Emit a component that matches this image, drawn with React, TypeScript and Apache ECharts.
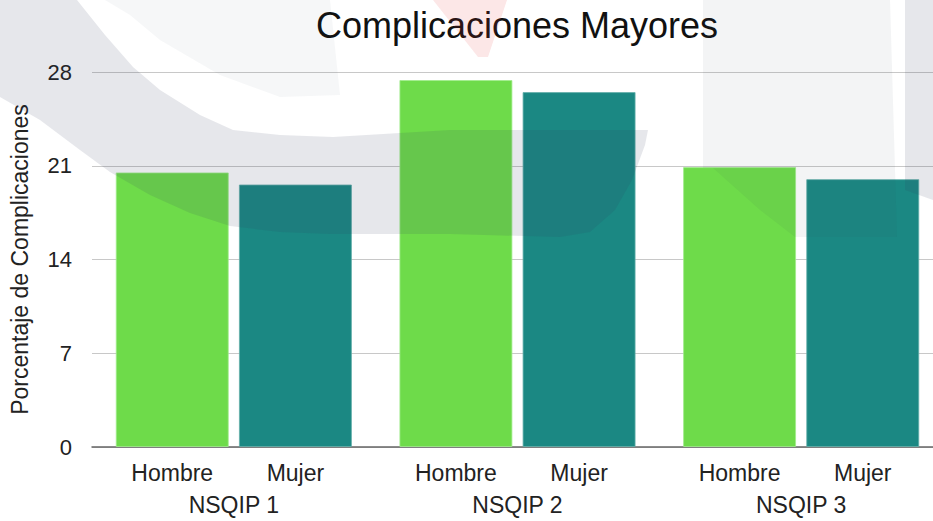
import React, { useEffect, useRef } from "react";
import * as echarts from "echarts";

const groups = ["NSQIP 1", "NSQIP 2", "NSQIP 3"];
const seriesNames = ["Hombre", "Mujer"];
const hombre = [20.5, 27.4, 20.9];
const mujer = [19.6, 26.5, 20.0];
const yTicks = [0, 7, 14, 21, 28];

const FONT = '"Liberation Sans", Arial, Helvetica, sans-serif';

export default function App() {
  const ref = useRef<HTMLDivElement | null>(null);

  useEffect(() => {
    if (!ref.current) return;
    const chart = echarts.init(ref.current, undefined, { renderer: "svg" });
    const band = "rgba(50,60,90,0.12)";
    const faint = "rgba(50,60,90,0.045)";
    const barLabel = (name: string) => ({
      show: true,
      position: "bottom" as const,
      distance: 14,
      formatter: () => name,
      color: "#222",
      fontSize: 23,
      fontFamily: FONT,
    });
    chart.setOption({
      animation: false,
      backgroundColor: "#ffffff",
      title: {
        text: "Complicaciones Mayores",
        left: 512,
        top: 2,
        textAlign: "center",
        textStyle: { fontSize: 36, fontWeight: "normal", color: "#111", fontFamily: FONT },
      },
      grid: { left: 91, right: 0, top: 72, bottom: 74, containLabel: false },
      xAxis: {
        type: "category",
        data: groups,
        axisLine: { show: true, lineStyle: { color: "#666", width: 1.5 } },
        axisTick: { show: false },
        axisLabel: { margin: 46, fontSize: 23, color: "#222", fontFamily: FONT },
      },
      yAxis: {
        type: "value",
        min: yTicks[0],
        max: yTicks[yTicks.length - 1],
        interval: 7,
        name: "Porcentaje de Complicaciones",
        nameLocation: "middle",
        nameGap: 61,
        nameTextStyle: { fontSize: 23, color: "#222", fontFamily: FONT },
        axisLine: { show: false },
        axisTick: { show: false },
        axisLabel: { margin: 20, fontSize: 22, color: "#222", fontFamily: FONT },
        splitLine: { lineStyle: { color: "#c8c8c8", width: 1 } },
      },
      series: [
        {
          name: seriesNames[0],
          type: "bar",
          data: hombre,
          barWidth: 113,
          barGap: "9%",
          itemStyle: { color: "#6EDB4A", borderColor: "rgba(160,236,140,0.8)", borderWidth: 1 },
          label: barLabel(seriesNames[0]),
        },
        {
          name: seriesNames[1],
          type: "bar",
          data: mujer,
          barWidth: 113,
          barGap: "9%",
          itemStyle: { color: "#1B8883", borderColor: "rgba(100,175,170,0.8)", borderWidth: 1 },
          label: barLabel(seriesNames[1]),
        },
      ],
      graphic: [
        {
          type: "polygon",
          silent: true,
          z: 100,
          shape: {
            points: [
              [0, 0], [77, 0], [105, 35], [133, 67], [160, 90], [200, 115], [233, 130],
              [280, 135], [333, 137], [450, 130], [648, 130], [645, 145], [632, 180],
              [615, 210], [590, 232], [560, 237], [450, 234], [330, 234], [280, 232],
              [230, 226], [190, 213], [150, 195], [110, 172], [80, 150], [40, 120], [0, 97],
            ],
          },
          style: { fill: band },
        },
        {
          type: "polygon",
          silent: true,
          z: 100,
          shape: {
            points: [[105, 0], [330, 0], [340, 95], [280, 97], [220, 75], [160, 40], [130, 15]],
          },
          style: { fill: faint },
        },
        {
          type: "polygon",
          silent: true,
          z: 100,
          shape: {
            points: [[703, 0], [890, 0], [897, 237], [795, 237], [760, 210], [713, 168], [703, 168]],
          },
          style: { fill: "rgba(50,60,90,0.06)" },
        },
        {
          type: "polygon",
          silent: true,
          z: 100,
          shape: { points: [[905, 0], [933, 0], [933, 200], [905, 190]] },
          style: { fill: band },
        },
        {
          type: "polygon",
          silent: true,
          z: 100,
          shape: { points: [[433, 0], [507, 0], [488, 57], [478, 57]] },
          style: { fill: "rgba(230,60,60,0.12)" },
        },
      ],
    });
    return () => chart.dispose();
  }, []);

  return (
    <div
      style={{ position: "absolute", left: 0, top: 0, width: 933, height: 521, overflow: "hidden" }}
    >
      <div ref={ref} style={{ position: "absolute", left: 0, top: 0, width: 943, height: 521 }} />
    </div>
  );
}
